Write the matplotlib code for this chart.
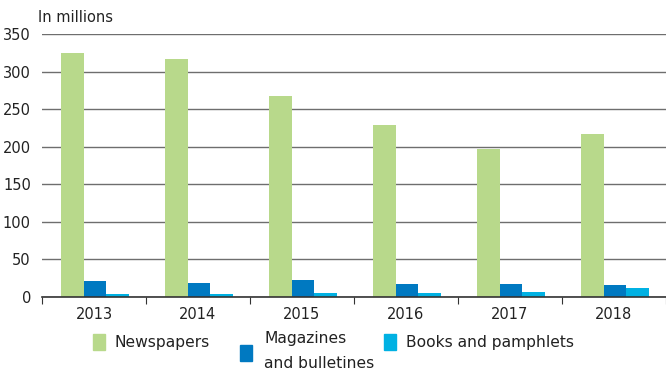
import numpy as np
import matplotlib
matplotlib.use("Agg")
import matplotlib.pyplot as plt
from matplotlib.patches import Rectangle

years = ["2013", "2014", "2015", "2016", "2017", "2018"]
newspapers = [325, 317, 267, 229, 197, 217]
magazines = [21, 19, 23, 17, 17, 16]
books = [4, 4, 5, 5, 7, 12]

series_names = ["Newspapers", "Magazines\nand bulletines", "Books and pamphlets"]
colors = ["#b8d98b", "#0079c1", "#00b1e3"]

plt.rcParams["font.family"] = ["Liberation Sans Narrow", "DejaVu Sans"]

fig = plt.figure(figsize=(6.66, 3.73), dpi=100)
ax = fig.add_axes([42 / 666, 1 - 297 / 373, 1 - 42 / 666, (297 - 34) / 373])

x = np.arange(len(years))
w = 0.22
for i, (vals, c) in enumerate(zip([newspapers, magazines, books], colors)):
    ax.bar(x + (i - 1) * w + 0.01, vals, w, color=c, zorder=3)

ax.set_ylim(0, 350)
ax.set_xlim(-0.5, len(years) - 0.5)
ax.set_yticks(range(0, 351, 50))
ax.yaxis.grid(True, color="#6e6e6e", lw=1.0, zorder=0)
ax.tick_params(axis="y", length=0, pad=8, labelsize=10.5, colors="#222222")

ax.set_xticks(np.arange(-0.5, len(years), 1.0))
ax.set_xticklabels([])
ax.tick_params(axis="x", which="major", length=5, direction="out", color="#333333")
ax.set_xticks(x, minor=True)
ax.set_xticklabels(years, minor=True)
ax.tick_params(axis="x", which="minor", length=0, pad=7, labelsize=10.5, labelcolor="#222222")

for s in ["left", "right", "top"]:
    ax.spines[s].set_visible(False)
ax.spines["bottom"].set_color("#333333")
ax.spines["bottom"].set_linewidth(1.2)
ax.spines["bottom"].set_zorder(4)

fig.text(38 / 666, 1 - 17 / 373, "In millions", fontsize=10.5, color="#222222",
         va="center", ha="left")

# legend
leg = [(93, 334, 115, 343), (240, 345, 264, 351), (384, 334, 406, 343)]
for (px, py, tx, ty), name, c in zip(leg, series_names, colors):
    fig.patches.append(Rectangle((px / 666, 1 - (py + 16) / 373), 12 / 666, 16 / 373,
                                 transform=fig.transFigure, color=c))
    fig.text(tx / 666, 1 - ty / 373, name, fontsize=11.2, color="#222222",
             va="center", ha="left", linespacing=1.9)

fig.savefig("out.png", dpi=100)
